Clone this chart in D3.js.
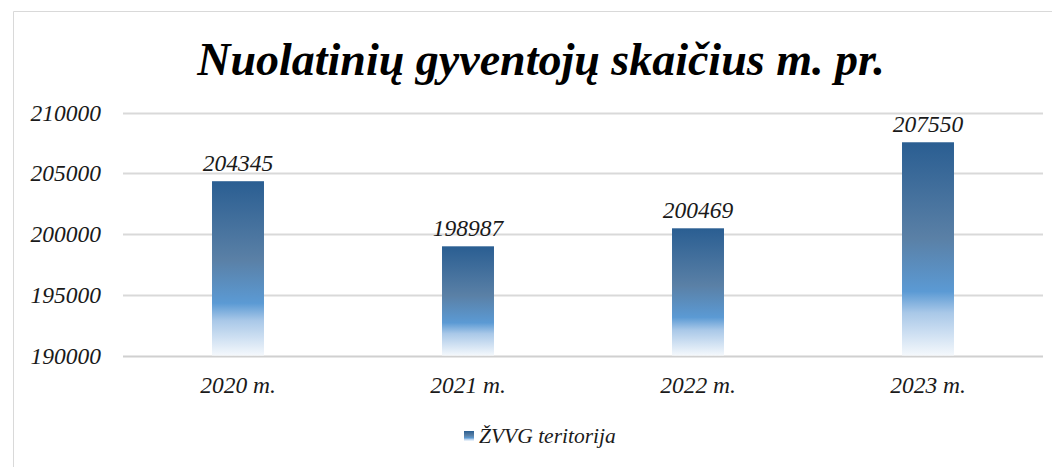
<!DOCTYPE html>
<html>
<head>
<meta charset="utf-8">
<script src="https://cdn.jsdelivr.net/npm/d3@7"></script>
<style>
  body { margin: 0; background: #fff; }
</style>
</head>
<body>
<div id="chart"></div>
<script>
var categories = ["2020 m.", "2021 m.", "2022 m.", "2023 m."];
var values = [204345, 198987, 200469, 207550];
var yTicks = [190000, 195000, 200000, 205000, 210000];
var seriesName = "ŽVVG teritorija";
var chartTitle = "Nuolatinių gyventojų skaičius m. pr.";

var width = 1052, height = 467;
var serif = "'Liberation Serif', 'Times New Roman', serif";

var svg = d3.select("#chart").append("svg")
    .attr("width", width)
    .attr("height", height);

// outer frame (right and bottom run off the picture)
svg.append("path")
    .attr("d", "M13.5," + height + "V11.5H" + width)
    .style("fill", "none")
    .style("stroke", "#d9d9d9")
    .style("stroke-width", 1);

// gradient for the bars
var grad = svg.append("defs").append("linearGradient")
    .attr("id", "barGrad")
    .attr("x1", 0).attr("y1", 0).attr("x2", 0).attr("y2", 1);
grad.append("stop").attr("offset", "0%").attr("stop-color", "#2a5e92");
grad.append("stop").attr("offset", "45%").attr("stop-color", "#5a80a6");
grad.append("stop").attr("offset", "70%").attr("stop-color", "#5b9ad4");
grad.append("stop").attr("offset", "80%").attr("stop-color", "#a9c8e8");
grad.append("stop").attr("offset", "100%").attr("stop-color", "#f4f8fc");

var x = d3.scaleBand()
    .domain(categories)
    .range([123, 1043])
    .paddingInner(0.774)
    .paddingOuter(0.387);

var y = d3.scaleLinear()
    .domain([190000, 210000])
    .range([355.5, 112.5]);

function italic(sel, size) {
    return sel.style("font-family", serif)
        .style("font-style", "italic")
        .style("font-size", size + "px")
        .style("fill", "#1a1a1a");
}

// gridlines
svg.append("g")
    .selectAll("line")
    .data(yTicks)
    .enter().append("line")
    .attr("x1", 123)
    .attr("x2", 1043)
    .attr("y1", function (d) { return Math.round(y(d)) + 0.5; })
    .attr("y2", function (d) { return Math.round(y(d)) + 0.5; })
    .style("stroke", function (d) { return d == 190000 ? "#d0d0d0" : "#d9d9d9"; })
    .style("stroke-width", 2);

// y tick labels
italic(svg.append("g")
    .selectAll("text")
    .data(yTicks)
    .enter().append("text")
    .attr("x", 101)
    .attr("y", function (d) { return y(d) + 8; })
    .attr("text-anchor", "end")
    .text(function (d) { return d; }), 23.5);

// bars
svg.append("g")
    .selectAll("rect")
    .data(values)
    .enter().append("rect")
    .attr("x", function (d, i) { return x(categories[i]); })
    .attr("width", x.bandwidth())
    .attr("y", function (d) { return y(d); })
    .attr("height", function (d) { return y(190000) - y(d); })
    .attr("fill", "url(#barGrad)");

// data labels
italic(svg.append("g")
    .selectAll("text")
    .data(values)
    .enter().append("text")
    .attr("x", function (d, i) { return x(categories[i]) + x.bandwidth() / 2; })
    .attr("y", function (d) { return y(d) - 10; })
    .attr("text-anchor", "middle")
    .text(function (d) { return d; }), 23.5);

// category labels
italic(svg.append("g")
    .selectAll("text")
    .data(categories)
    .enter().append("text")
    .attr("x", function (d) { return x(d) + x.bandwidth() / 2; })
    .attr("y", 393)
    .attr("text-anchor", "middle")
    .text(function (d) { return d; }), 23.5);

// title
svg.append("text")
    .attr("x", 541)
    .attr("y", 75)
    .attr("text-anchor", "middle")
    .style("font-family", serif)
    .style("font-style", "italic")
    .style("font-weight", "bold")
    .style("font-size", "46px")
    .style("fill", "#000")
    .text(chartTitle);

// legend
var legend = svg.append("g");
legend.append("rect")
    .attr("x", 464)
    .attr("y", 431)
    .attr("width", 10)
    .attr("height", 10)
    .attr("fill", "url(#barGrad)");
italic(legend.append("text")
    .attr("x", 479)
    .attr("y", 443)
    .text(seriesName), 21.5);
</script>
</body>
</html>
